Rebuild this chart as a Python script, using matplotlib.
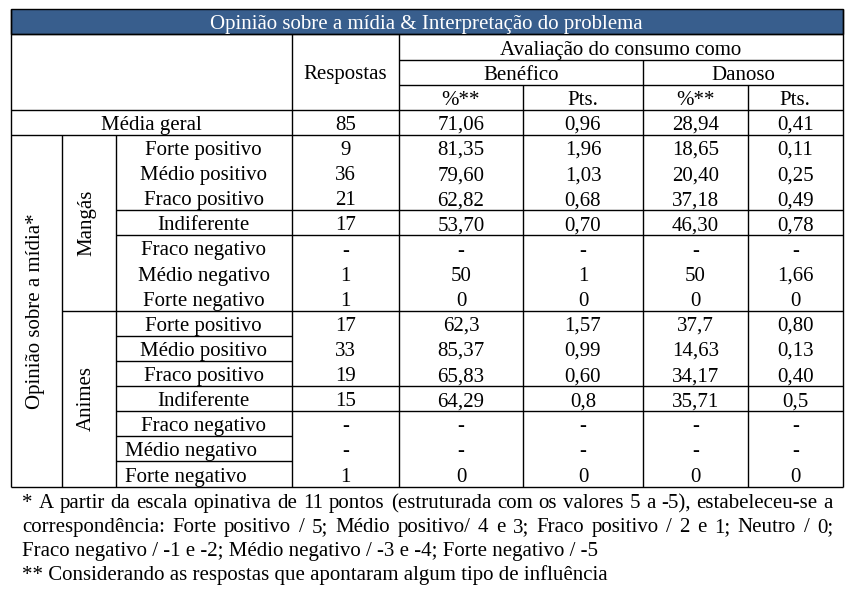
import matplotlib
matplotlib.use("Agg")
import matplotlib.pyplot as plt
from matplotlib.patches import Rectangle

plt.rcParams['font.family'] = ['Liberation Serif', 'DejaVu Serif']

# ---- data ----
title = "Opinião sobre a mídia & Interpretação do problema"
categories = ["Forte positivo", "Médio positivo", "Fraco positivo", "Indiferente",
              "Fraco negativo", "Médio negativo", "Forte negativo"]
groups = ["Mangás", "Animes"]

media_geral = ["85", "71,06", "0,96", "28,94", "0,41"]

mangas_resp = ["9", "36", "21", "17", "-", "1", "1"]
mangas_ben_pct = ["81,35", "79,60", "62,82", "53,70", "-", "50", "0"]
mangas_ben_pts = ["1,96", "1,03", "0,68", "0,70", "-", "1", "0"]
mangas_dan_pct = ["18,65", "20,40", "37,18", "46,30", "-", "50", "0"]
mangas_dan_pts = ["0,11", "0,25", "0,49", "0,78", "-", "1,66", "0"]

animes_resp = ["17", "33", "19", "15", "-", "-", "1"]
animes_ben_pct = ["62,3", "85,37", "65,83", "64,29", "-", "-", "0"]
animes_ben_pts = ["1,57", "0,99", "0,60", "0,8", "-", "-", "0"]
animes_dan_pct = ["37,7", "14,63", "34,17", "35,71", "-", "-", "0"]
animes_dan_pts = ["0,80", "0,13", "0,40", "0,5", "-", "-", "0"]

footnotes = [
    "* A partir da escala opinativa de 11 pontos (estruturada com os valores 5 a -5), estabeleceu-se a",
    "correspondência: Forte positivo / 5; Médio positivo/ 4 e 3; Fraco positivo / 2 e 1; Neutro / 0;",
    "Fraco negativo / -1 e -2; Médio negativo / -3 e -4; Forte negativo / -5",
    "** Considerando as respostas que apontaram algum tipo de influência",
]

# ---- layout (pixels) ----
W, H = 853, 593
fig = plt.figure(figsize=(W / 100, H / 100), dpi=100)
ax = fig.add_axes([0, 0, 1, 1])
ax.set_xlim(0, W)
ax.set_ylim(H, 0)
ax.axis('off')

xs = [10.7, 61.7, 115.7, 291.7, 399.3, 522.7, 643.3, 747.7, 842.7]
y0 = 9.3
rh = 25.12
def ry(k):
    return y0 + k * rh

FS = 15
LW = 1.0
blue = '#385E8D'

def hline(y, xa, xb):
    ax.plot([xa, xb], [y, y], color='black', lw=LW, solid_capstyle='butt')

def vline(x, ya, yb):
    ax.plot([x, x], [ya, yb], color='black', lw=LW, solid_capstyle='butt')

def cell(text, xa, xb, k, ha='center', color='black'):
    if ha == 'center':
        x = (xa + xb) / 2
    else:
        x = xa + 9
    ax.text(x, ry(k + 1) - 5, text, ha=ha, va='baseline', fontsize=FS, color=color)

# title bar
ax.add_patch(Rectangle((xs[0], ry(0)), xs[-1] - xs[0], rh, facecolor=blue,
                       edgecolor='black', lw=LW))
cell(title, xs[0], xs[-1], 0, color='white')

# header
cell("Avaliação do consumo como", xs[4], xs[8], 1)
cell("Benéfico", xs[4], xs[6], 2)
cell("Danoso", xs[6], xs[8], 2)
for a, b, lab in [(4, 5, "%**"), (5, 6, "Pts."), (6, 7, "%**"), (7, 8, "Pts.")]:
    cell(lab, xs[a], xs[b], 3)
ax.text((xs[3] + xs[4]) / 2, (ry(1) + ry(4)) / 2 + 7, "Respostas", ha='center',
        va='baseline', fontsize=FS)

# média geral
cell("Média geral", xs[0], xs[3], 4)
for j, v in enumerate(media_geral):
    cell(v, xs[3 + j], xs[4 + j], 4)

# body
blocks = [
    (mangas_resp, mangas_ben_pct, mangas_ben_pts, mangas_dan_pct, mangas_dan_pts),
    (animes_resp, animes_ben_pct, animes_ben_pts, animes_dan_pct, animes_dan_pts),
]
for g, cols in enumerate(blocks):
    base = 5 + g * len(categories)
    for i, cat in enumerate(categories):
        k = base + i
        left = (g == 1 and i >= 5)
        cell(cat, xs[2], xs[3], k, ha='left' if left else 'center')
        for j, col in enumerate(cols):
            cell(col[i], xs[3 + j], xs[4 + j], k)
    yc = (ry(base) + ry(base + len(categories))) / 2
    ax.text((xs[1] + xs[2]) / 2 - 2, yc, groups[g], rotation=90, ha='center',
            va='center', fontsize=FS)

ax.text((xs[0] + xs[1]) / 2 - 1, (ry(5) + ry(19)) / 2, "Opinião sobre a mídia*",
        rotation=90, ha='center', va='center', fontsize=FS)

# grid lines
hline(ry(1), xs[0], xs[8])
hline(ry(2), xs[4], xs[8])
hline(ry(3), xs[4], xs[8])
hline(ry(4), xs[0], xs[8])
hline(ry(5), xs[0], xs[8])
for k in [8, 9, 15, 16]:
    hline(ry(k), xs[2], xs[8])
hline(ry(12), xs[1], xs[8])
for k in [13, 14, 17, 18]:
    hline(ry(k), xs[2], xs[3])
hline(ry(19), xs[0], xs[8])

vline(xs[0], ry(0), ry(19))
vline(xs[8], ry(0), ry(19))
vline(xs[1], ry(5), ry(19))
vline(xs[2], ry(5), ry(19))
vline(xs[3], ry(1), ry(19))
vline(xs[4], ry(1), ry(19))
vline(xs[6], ry(2), ry(19))
vline(xs[5], ry(3), ry(19))
vline(xs[7], ry(3), ry(19))

# footnotes (first two lines justified)
renderer = fig.canvas.get_renderer()
fx0, fx1 = 22, 833
fy = [508, 532, 556, 580]
for n, line in enumerate(footnotes):
    if n < 2:
        words = line.split(' ')
        texts = [ax.text(0, fy[n], w, ha='left', va='baseline', fontsize=FS) for w in words]
        widths = [t.get_window_extent(renderer).width for t in texts]
        gap = (fx1 - fx0 - sum(widths)) / (len(words) - 1)
        x = fx0
        for t, w in zip(texts, widths):
            t.set_x(x)
            x += w + gap
    else:
        ax.text(fx0, fy[n], line, ha='left', va='baseline', fontsize=FS)

fig.savefig("out.png", dpi=100)
